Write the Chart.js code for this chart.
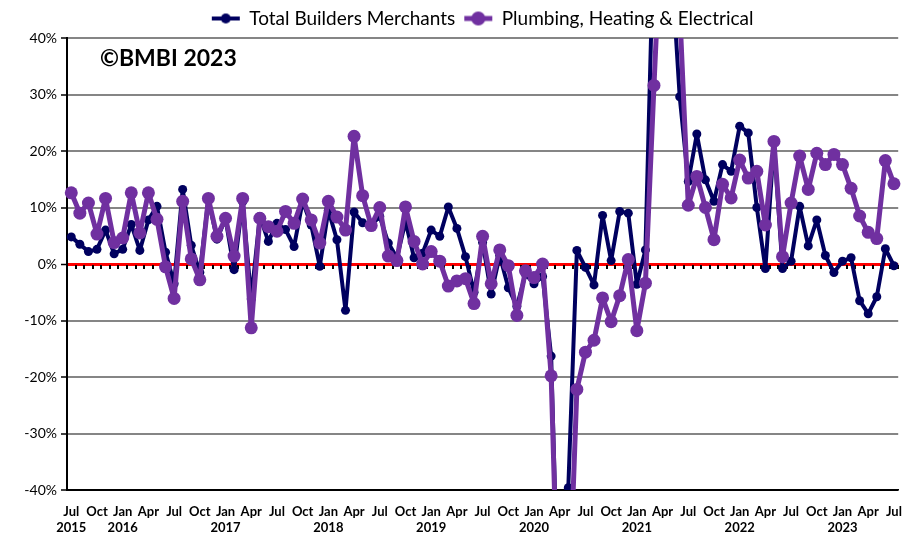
<!DOCTYPE html>
<html>
<head>
<meta charset="utf-8">
<script src="https://cdn.jsdelivr.net/npm/chart.js@4/dist/chart.umd.min.js"></script>
<style>
    html, body { margin: 0; padding: 0; background: #fff; }
</style>
</head>
<body>
<canvas id="chart" width="916" height="536"></canvas>
<script>
// Month categories, Jul 2015 .. Jul 2023
const monthNames = ['Jan','Feb','Mar','Apr','May','Jun','Jul','Aug','Sep','Oct','Nov','Dec'];
const startYear = 2015;
const startMonth = 6; // Jul
const monthCount = 97;

// Year-on-year change, %
const totalBuildersMerchants = [
    4.8, 3.5, 2.2, 2.6, 6.0, 1.8, 2.6, 7.0, 2.4, 7.8, 10.2, 2.1,
    -3.5, 13.2, 3.3, -1.5, 11.5, 4.4, 8.0, -1.0, 11.0, -6.2, 8.4, 4.0,
    7.2, 6.1, 3.1, 11.1, 6.9, -0.4, 9.5, 4.3, -8.2, 9.2, 7.3, 6.9,
    8.4, 3.7, 1.1, 7.5, 1.1, 1.9, 6.0, 4.9, 10.1, 6.3, 1.3, -5.0,
    3.8, -5.3, 1.5, -4.2, -7.5, -1.8, -3.5, -2.2, -16.3, -70, -39.6, 2.4,
    -0.6, -3.7, 8.6, 0.6, 9.3, 9.0, -3.6, 2.5, 60, 100, 54, 29.6,
    14.6, 23.0, 14.9, 11.1, 17.6, 16.4, 24.4, 23.2, 10.0, -0.8, 21.5, -0.8,
    0.5, 10.2, 3.2, 7.8, 1.5, -1.5, 0.5, 1.1, -6.5, -8.8, -5.8, 2.7,
    -0.3
];
const plumbingHeatingElectrical = [
    12.6, 9.0, 10.8, 5.3, 11.6, 3.8, 4.6, 12.6, 5.5, 12.6, 7.9, -0.5,
    -6.1, 11.1, 0.9, -2.8, 11.6, 4.9, 8.1, 1.4, 11.6, -11.3, 8.1, 6.6,
    5.8, 9.3, 7.2, 11.5, 7.8, 3.7, 11.1, 8.3, 6.0, 22.6, 12.1, 6.8,
    10.0, 1.4, 0.6, 10.1, 4.0, 0.0, 2.2, 0.5, -3.9, -3.0, -2.6, -7.0,
    4.9, -3.5, 2.5, -0.3, -9.1, -1.2, -2.4, 0.0, -19.8, -72, -64, -22.2,
    -15.6, -13.5, -6.0, -10.2, -5.6, 0.8, -11.8, -3.4, 31.6, 65, 70, 45,
    10.4, 15.5, 10.0, 4.3, 14.1, 11.7, 18.4, 15.2, 16.4, 6.9, 21.7, 1.3,
    10.8, 19.1, 13.2, 19.6, 17.6, 19.4, 17.6, 13.4, 8.5, 5.6, 4.5, 18.3,
    14.2
];

const categories = [];
for (let i = 0; i < monthCount; i++) {
    const m = (startMonth + i) % 12;
    const y = startYear + Math.floor((startMonth + i) / 12);
    categories.push({ month: monthNames[m], year: y });
}
const labels = categories.map(c => c.month + ' ' + c.year);

const navy = '#00005f';
const purple = '#7030a0';

// legend icon: short line with a dot, like the Excel legend
const legendIcon = (ds) => {
    const c = document.createElement('canvas');
    c.width = 30; c.height = 18;
    const g = c.getContext('2d');
    g.strokeStyle = ds.borderColor;
    g.lineWidth = ds.borderWidth;
    g.beginPath(); g.moveTo(1, 9); g.lineTo(29, 9); g.stroke();
    g.fillStyle = ds.pointBackgroundColor;
    g.beginPath(); g.arc(15, 9, ds.pointRadius + 0.5, 0, Math.PI * 2); g.fill();
    return c;
};

// small black tick marks along the zero axis
const zeroTicks = {
    id: 'zeroTicks',
    beforeDatasetsDraw(chart) {
        const { ctx, scales: { x, y } } = chart;
        const y0 = y.getPixelForValue(0);
        const step = x.getPixelForValue(1) - x.getPixelForValue(0);
        ctx.save();
        ctx.fillStyle = '#000';
        for (let i = 1; i <= categories.length; i++) {
            const px = x.getPixelForValue(i) - step / 2;
            ctx.fillRect(Math.round(px) - 1, y0 + 1, 2, 4);
        }
        ctx.restore();
    }
};

const watermark = {
    id: 'watermark',
    afterDraw(chart) {
        const ctx = chart.ctx;
        ctx.save();
        ctx.font = 'bold 23px Lato';
        ctx.fillStyle = '#000';
        ctx.textBaseline = 'middle';
        ctx.fillText('\u00A9BMBI 2023', 100, 59);
        ctx.restore();
    }
};

Chart.defaults.font.family = 'Lato';
Chart.defaults.color = '#000';

new Chart(document.getElementById('chart'), {
    type: 'line',
    data: {
        labels: labels,
        datasets: [
            {
                label: 'Total Builders Merchants',
                data: totalBuildersMerchants,
                borderColor: navy,
                backgroundColor: navy,
                pointBackgroundColor: navy,
                pointBorderColor: navy,
                borderWidth: 4,
                borderJoinStyle: 'round',
                borderCapStyle: 'round',
                pointRadius: 4.5,
                pointBorderWidth: 0,
                tension: 0,
                order: 1
            },
            {
                label: 'Plumbing, Heating & Electrical',
                data: plumbingHeatingElectrical,
                borderColor: purple,
                backgroundColor: purple,
                pointBackgroundColor: purple,
                pointBorderColor: purple,
                borderWidth: 5,
                borderJoinStyle: 'round',
                borderCapStyle: 'round',
                pointRadius: 6.5,
                pointBorderWidth: 0,
                tension: 0,
                order: 0
            }
        ]
    },
    options: {
        responsive: false,
        animation: false,
        layout: { padding: { left: 0, right: 16, top: 0, bottom: 0 } },
        plugins: {
            tooltip: { enabled: false },
            legend: {
                position: 'top',
                fullSize: false,
                labels: {
                    font: { size: 19 },
                    color: '#000',
                    usePointStyle: true,
                    pointStyleWidth: 28,
                    padding: 9,
                    sort: (a, b) => a.datasetIndex - b.datasetIndex,
                    generateLabels(chart) {
                        const items = Chart.defaults.plugins.legend.labels.generateLabels(chart);
                        items.forEach(it => {
                            it.pointStyle = legendIcon(chart.data.datasets[it.datasetIndex]);
                        });
                        return items;
                    }
                }
            }
        },
        scales: {
            x: {
                offset: true,
                grid: { display: false, drawTicks: false },
                border: { display: true, color: '#000', width: 1.5 },
                ticks: {
                    autoSkip: false,
                    maxRotation: 0,
                    padding: 14,
                    font: { size: 13, weight: 'bold' },
                    callback(value, index) {
                        if (index % 3 !== 0) return '';
                        const c = categories[index];
                        if (index === 0 || c.month === 'Jan') return [c.month, String(c.year)];
                        return c.month;
                    }
                },
                afterFit(scale) { scale.height = 46; }
            },
            y: {
                min: -40,
                max: 40,
                ticks: {
                    stepSize: 10,
                    padding: 4,
                    font: { size: 14 },
                    callback: v => v + '%'
                },
                grid: {
                    color: ctx => ctx.tick.value === 0 ? '#ff0000' : (ctx.tick.value === -40 ? '#000' : '#858585'),
                    lineWidth: ctx => ctx.tick.value === 0 ? 3 : 2,
                    tickColor: '#000',
                    tickLength: 6,
                    tickWidth: 1.5
                },
                border: { display: true, color: '#000', width: 2 },
                afterFit(scale) { scale.width = 67; }
            }
        }
    },
    plugins: [zeroTicks, watermark]
});
</script>
</body>
</html>
